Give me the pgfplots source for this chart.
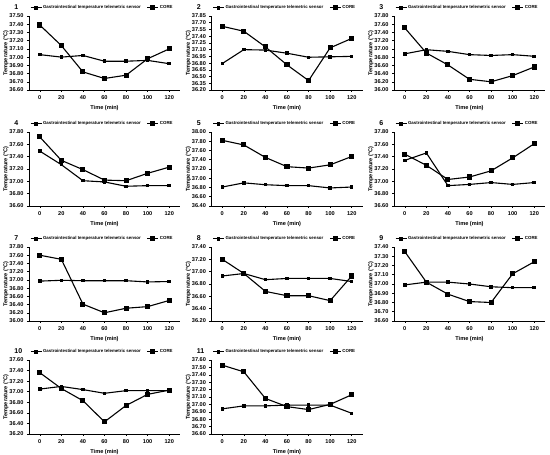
\documentclass[border=0pt]{standalone}
\usepackage{fontspec}
\setmainfont{Liberation Sans}
\usepackage{pgfplots}
\pgfplotsset{compat=1.18}
\pgfplotsset{
  panel/.style={
    scale only axis, width=151pt, height=74pt, anchor=south west,
    xmin=-10, xmax=130, xtick={0,20,40,60,80,100,120},
    axis x line*=bottom, axis y line*=left,
    axis line style={-, line width=0.6pt, black},
    tick align=outside, major tick length=2pt,
    tick style={line width=0.5pt, black},
    ticklabel style={font=\fontsize{5.6}{6}\selectfont\bfseries},
    y tick label style={/pgf/number format/.cd, fixed, fixed zerofill, precision=2},
    /pgf/number format/assume math mode=true,
    xlabel={Time (min)}, ylabel={Temperature (°C)},
    every axis x label/.style={at={(rel axis cs:0.5,0)}, yshift=-18pt, anchor=center},
    every axis y label/.style={at={(rel axis cs:0,0.5)}, xshift=-23pt, rotate=90, anchor=center},
    label style={font=\fontsize{5.6}{6}\selectfont\bfseries},
    every axis title/.style={at={(rel axis cs:-0.12,1.12)}, anchor=west, font=\fontsize{7}{7}\selectfont\bfseries},
    legend columns=2,
    legend style={at={(rel axis cs:0.005,1.11)}, anchor=west, draw=none, fill=none,
      font=\fontsize{4.4}{5}\selectfont\bfseries, inner sep=0pt,
      nodes={inner sep=1pt},
      /tikz/every even column/.append style={column sep=5pt}},
    legend image code/.code={\draw[mark repeat=2,mark phase=2,##1] plot coordinates {(0pt,0pt)(5.5pt,0pt)(11pt,0pt)};},
    clip=false,
  },
  gas/.style={black, line width=1.1pt, mark=square*, mark size=1.2pt, mark options={solid}},
  cor/.style={black, line width=1.1pt, mark=square*, mark size=2pt, mark options={solid}},
}
\begin{document}
\begin{tikzpicture}
\path[use as bounding box, fill=white] (0pt,0pt) rectangle (550pt,455pt);
% Panel 1
\begin{axis}[panel, at={(29pt,365pt)}, title={1}, ymin=36.60, ymax=37.50,
  ytick={36.60,36.70,36.80,36.90,37.00,37.10,37.20,37.30,37.40,37.50}]
\addplot[gas] coordinates {(0,37.03)(20,37.00)(40,37.02)(60,36.95)(80,36.95)(100,36.96)(120,36.92)};
\addplot[cor] coordinates {(0,37.39)(20,37.14)(40,36.82)(60,36.74)(80,36.78)(100,36.98)(120,37.10)};
\legend{Gastrointestinal temperature telemetric sensor, CORE}
\end{axis}
% Panel 2
\begin{axis}[panel, at={(211.5pt,365pt)}, title={2}, ymin=36.20, ymax=37.85,
  ytick={36.20,36.35,36.50,36.65,36.80,36.95,37.10,37.25,37.40,37.55,37.70,37.85}]
\addplot[gas] coordinates {(0,36.79)(20,37.10)(40,37.09)(60,37.02)(80,36.93)(100,36.94)(120,36.95)};
\addplot[cor] coordinates {(0,37.62)(20,37.51)(40,37.16)(60,36.76)(80,36.41)(100,37.14)(120,37.35)};
\legend{Gastrointestinal temperature telemetric sensor, CORE}
\end{axis}
% Panel 3
\begin{axis}[panel, at={(394pt,365pt)}, title={3}, ymin=36.00, ymax=37.80,
  ytick={36.00,36.20,36.40,36.60,36.80,37.00,37.20,37.40,37.60,37.80}]
\addplot[gas] coordinates {(0,36.88)(20,36.98)(40,36.94)(60,36.86)(80,36.84)(100,36.86)(120,36.82)};
\addplot[cor] coordinates {(0,37.51)(20,36.90)(40,36.61)(60,36.26)(80,36.20)(100,36.35)(120,36.56)};
\legend{Gastrointestinal temperature telemetric sensor, CORE}
\end{axis}
% Panel 4
\begin{axis}[panel, at={(29pt,249pt)}, title={4}, ymin=36.60, ymax=37.80,
  ytick={36.60,36.80,37.00,37.20,37.40,37.60,37.80}]
\addplot[gas] coordinates {(0,37.49)(20,37.27)(40,37.01)(60,36.99)(80,36.92)(100,36.93)(120,36.93)};
\addplot[cor] coordinates {(0,37.72)(20,37.34)(40,37.19)(60,37.02)(80,37.01)(100,37.13)(120,37.23)};
\legend{Gastrointestinal temperature telemetric sensor, CORE}
\end{axis}
% Panel 5
\begin{axis}[panel, at={(211.5pt,249pt)}, title={5}, ymin=36.40, ymax=38.00,
  ytick={36.40,36.60,36.80,37.00,37.20,37.40,37.60,37.80,38.00}]
\addplot[gas] coordinates {(0,36.81)(20,36.90)(40,36.86)(60,36.84)(80,36.84)(100,36.79)(120,36.81)};
\addplot[cor] coordinates {(0,37.82)(20,37.72)(40,37.45)(60,37.25)(80,37.22)(100,37.29)(120,37.47)};
\legend{Gastrointestinal temperature telemetric sensor, CORE}
\end{axis}
% Panel 6
\begin{axis}[panel, at={(394pt,249pt)}, title={6}, ymin=36.60, ymax=37.80,
  ytick={36.60,36.80,37.00,37.20,37.40,37.60,37.80}]
\addplot[gas] coordinates {(0,37.34)(20,37.46)(40,36.93)(60,36.95)(80,36.98)(100,36.95)(120,36.98)};
\addplot[cor] coordinates {(0,37.44)(20,37.26)(40,37.03)(60,37.07)(80,37.17)(100,37.38)(120,37.61)};
\legend{Gastrointestinal temperature telemetric sensor, CORE}
\end{axis}
% Panel 7
\begin{axis}[panel, at={(29pt,134pt)}, title={7}, ymin=36.00, ymax=37.80,
  ytick={36.00,36.20,36.40,36.60,36.80,37.00,37.20,37.40,37.60,37.80}]
\addplot[gas] coordinates {(0,36.97)(20,36.99)(40,36.98)(60,36.98)(80,36.98)(100,36.95)(120,36.96)};
\addplot[cor] coordinates {(0,37.60)(20,37.50)(40,36.41)(60,36.20)(80,36.31)(100,36.35)(120,36.50)};
\legend{Gastrointestinal temperature telemetric sensor, CORE}
\end{axis}
% Panel 8
\begin{axis}[panel, at={(211.5pt,134pt)}, title={8}, ymin=36.20, ymax=37.40,
  ytick={36.20,36.40,36.60,36.80,37.00,37.20,37.40}]
\addplot[gas] coordinates {(0,36.93)(20,36.97)(40,36.87)(60,36.89)(80,36.89)(100,36.89)(120,36.84)};
\addplot[cor] coordinates {(0,37.20)(20,36.97)(40,36.68)(60,36.61)(80,36.61)(100,36.53)(120,36.93)};
\legend{Gastrointestinal temperature telemetric sensor, CORE}
\end{axis}
% Panel 9
\begin{axis}[panel, at={(394pt,134pt)}, title={9}, ymin=36.60, ymax=37.40,
  ytick={36.60,36.70,36.80,36.90,37.00,37.10,37.20,37.30,37.40}]
\addplot[gas] coordinates {(0,36.99)(20,37.02)(40,37.02)(60,37.00)(80,36.97)(100,36.96)(120,36.96)};
\addplot[cor] coordinates {(0,37.35)(20,37.02)(40,36.89)(60,36.81)(80,36.80)(100,37.11)(120,37.24)};
\legend{Gastrointestinal temperature telemetric sensor, CORE}
\end{axis}
% Panel 10
\begin{axis}[panel, at={(29pt,21pt)}, title={10}, ymin=36.20, ymax=37.60,
  ytick={36.20,36.40,36.60,36.80,37.00,37.20,37.40,37.60}]
\addplot[gas] coordinates {(0,37.05)(20,37.10)(40,37.04)(60,36.97)(80,37.02)(100,37.02)(120,37.02)};
\addplot[cor] coordinates {(0,37.36)(20,37.06)(40,36.83)(60,36.43)(80,36.74)(100,36.95)(120,37.03)};
\legend{Gastrointestinal temperature telemetric sensor, CORE}
\end{axis}
% Panel 11
\begin{axis}[panel, at={(211.5pt,21pt)}, title={11}, ymin=36.60, ymax=37.60,
  ytick={36.60,36.70,36.80,36.90,37.00,37.10,37.20,37.30,37.40,37.50,37.60}]
\addplot[gas] coordinates {(0,36.94)(20,36.98)(40,36.98)(60,36.99)(80,36.99)(100,36.99)(120,36.88)};
\addplot[cor] coordinates {(0,37.53)(20,37.44)(40,37.08)(60,36.97)(80,36.93)(100,37.00)(120,37.13)};
\legend{Gastrointestinal temperature telemetric sensor, CORE}
\end{axis}
\end{tikzpicture}
\end{document}
